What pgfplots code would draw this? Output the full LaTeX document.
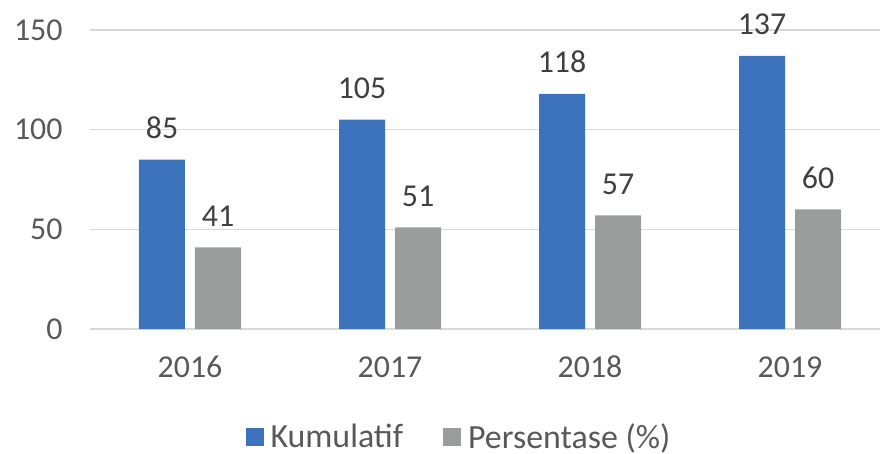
\documentclass[border=0pt]{standalone}
\usepackage{pgfplots}
\pgfplotsset{compat=1.18}
\usepackage{fontspec}
\setmainfont{Carlito}
\definecolor{cblue}{HTML}{3D72BC}
\definecolor{cgray}{HTML}{9B9D9D}
\definecolor{ctick}{HTML}{595959}
\definecolor{clab}{HTML}{404040}
\definecolor{cgrid}{HTML}{D9D9D9}
\begin{document}
\begin{tikzpicture}
\useasboundingbox (-90bp,-125bp) rectangle (790bp,329bp);
\begin{axis}[
  at={(0,0)}, anchor=south west,
  scale only axis,
  width=790bp, height=299bp,
  xmin=-0.5, xmax=3.45,
  ymin=0, ymax=150,
  ytick={0,50,100,150},
  xtick=data,
  xticklabels={2016,2017,2018,2019},
  axis line style={draw=none},
  major tick length=0pt,
  ymajorgrids,
  grid style={cgrid, line width=1.5bp},
  ybar=10bp,
  bar width=46bp,
  /pgf/number format/assume math mode=true,
  ticklabel style={font=\fontsize{32}{38}\selectfont, color=ctick},
  yticklabel style={anchor=east, xshift=-24bp},
  xticklabel style={anchor=center, yshift=-38bp},
  nodes near coords,
  every node near coord/.append style={font=\fontsize{32}{38}\selectfont, color=clab, anchor=base, inner sep=0pt, yshift=21bp},
  legend style={at={(0.467,-0.361)}, anchor=center, draw=none, fill=none,
    font=\fontsize{34}{40}\selectfont, text=ctick, legend columns=2,
    /tikz/every odd column/.append style={column sep=5bp},
    /tikz/every even column/.append style={column sep=38bp}},
  legend image code/.code={\fill[#1] (0bp,-9bp) rectangle (18bp,9bp);},
]
\addplot[fill=cblue, draw=none] coordinates {(0,85) (1,105) (2,118) (3,137)};
\addplot[fill=cgray, draw=none] coordinates {(0,41) (1,51) (2,57) (3,60)};
\legend{Kumulatif, Persentase (\%)}
\end{axis}
\end{tikzpicture}
\end{document}
